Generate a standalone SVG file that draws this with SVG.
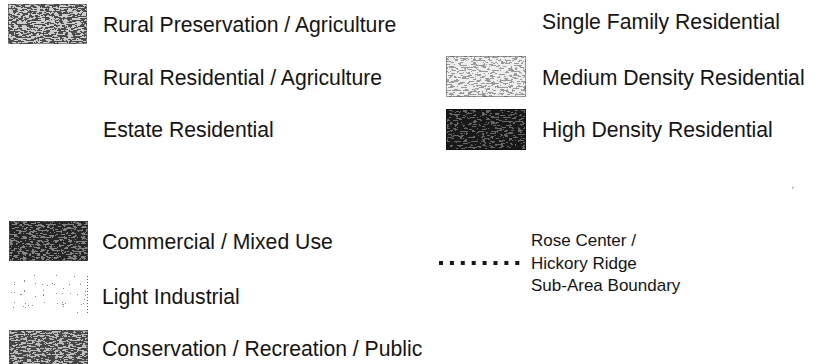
<svg xmlns="http://www.w3.org/2000/svg" width="830" height="364" viewBox="0 0 830 364">
<style>
  text { font-family: "Liberation Sans", Arial, sans-serif; fill: #141414; }
  .lbl { font-size: 21.2px; }
  .sm { font-size: 17px; }
  .edge { fill: none; stroke: #444; stroke-width: 1; stroke-dasharray: 1 1; }
</style>
<defs>
  <filter id="dMid" x="0" y="0" width="1" height="1" color-interpolation-filters="sRGB">
    <feTurbulence type="fractalNoise" baseFrequency="0.22 0.7" numOctaves="3" seed="4"/>
    <feColorMatrix type="matrix" values="1 0 0 0 0  1 0 0 0 0  1 0 0 0 0  0 0 0 0 1"/>
    <feComponentTransfer><feFuncR type="discrete" tableValues="0.3 0.8"/><feFuncG type="discrete" tableValues="0.3 0.8"/><feFuncB type="discrete" tableValues="0.3 0.8"/></feComponentTransfer>
    <feComposite in2="SourceGraphic" operator="in"/>
  </filter>
  <filter id="dCons" x="0" y="0" width="1" height="1" color-interpolation-filters="sRGB">
    <feTurbulence type="fractalNoise" baseFrequency="0.22 0.7" numOctaves="3" seed="21"/>
    <feColorMatrix type="matrix" values="1 0 0 0 -0.03  1 0 0 0 -0.03  1 0 0 0 -0.03  0 0 0 0 1"/>
    <feComponentTransfer><feFuncR type="discrete" tableValues="0.28 0.74"/><feFuncG type="discrete" tableValues="0.28 0.74"/><feFuncB type="discrete" tableValues="0.28 0.74"/></feComponentTransfer>
    <feComposite in2="SourceGraphic" operator="in"/>
  </filter>
  <filter id="dLight" x="0" y="0" width="1" height="1" color-interpolation-filters="sRGB">
    <feTurbulence type="fractalNoise" baseFrequency="0.22 0.7" numOctaves="3" seed="7"/>
    <feColorMatrix type="matrix" values="1 0 0 0 0.05  1 0 0 0 0.05  1 0 0 0 0.05  0 0 0 0 1"/>
    <feComponentTransfer><feFuncR type="discrete" tableValues="0.6 0.93"/><feFuncG type="discrete" tableValues="0.6 0.93"/><feFuncB type="discrete" tableValues="0.6 0.93"/></feComponentTransfer>
    <feComposite in2="SourceGraphic" operator="in"/>
  </filter>
  <filter id="dDark" x="0" y="0" width="1" height="1" color-interpolation-filters="sRGB">
    <feTurbulence type="fractalNoise" baseFrequency="0.22 0.7" numOctaves="3" seed="9"/>
    <feColorMatrix type="matrix" values="1 0 0 0 -0.08  1 0 0 0 -0.08  1 0 0 0 -0.08  0 0 0 0 1"/>
    <feComponentTransfer><feFuncR type="discrete" tableValues="0.1 0.4"/><feFuncG type="discrete" tableValues="0.1 0.4"/><feFuncB type="discrete" tableValues="0.1 0.4"/></feComponentTransfer>
    <feComposite in2="SourceGraphic" operator="in"/>
  </filter>
  <filter id="dCom" x="0" y="0" width="1" height="1" color-interpolation-filters="sRGB">
    <feTurbulence type="fractalNoise" baseFrequency="0.22 0.7" numOctaves="3" seed="12"/>
    <feColorMatrix type="matrix" values="1 0 0 0 -0.05  1 0 0 0 -0.05  1 0 0 0 -0.05  0 0 0 0 1"/>
    <feComponentTransfer><feFuncR type="discrete" tableValues="0.15 0.52"/><feFuncG type="discrete" tableValues="0.15 0.52"/><feFuncB type="discrete" tableValues="0.15 0.52"/></feComponentTransfer>
    <feComposite in2="SourceGraphic" operator="in"/>
  </filter>
  <filter id="dSparse" x="0" y="0" width="1" height="1" color-interpolation-filters="sRGB">
    <feTurbulence type="fractalNoise" baseFrequency="0.9" numOctaves="1" seed="5"/>
    <feColorMatrix type="matrix" values="1 0 0 0 0.22  1 0 0 0 0.22  1 0 0 0 0.22  0 0 0 0 1"/>
    <feComponentTransfer><feFuncR type="discrete" tableValues="0.55 1"/><feFuncG type="discrete" tableValues="0.55 1"/><feFuncB type="discrete" tableValues="0.55 1"/></feComponentTransfer>
    <feComposite in2="SourceGraphic" operator="in"/>
  </filter>
</defs>

<g id="rural-preservation">
  <rect x="8" y="4" width="79" height="40" fill="#888" filter="url(#dMid)"/>
  <rect x="8.5" y="4.5" width="78" height="39" class="edge"/>
  <text class="lbl" x="103" y="32">Rural Preservation / Agriculture</text>
</g>
<g id="rural-residential">
  <text class="lbl" x="103" y="85">Rural Residential / Agriculture</text>
</g>
<g id="estate-residential">
  <text class="lbl" x="103" y="137">Estate Residential</text>
</g>
<g id="single-family">
  <text class="lbl" x="542" y="29">Single Family Residential</text>
</g>
<g id="medium-density">
  <rect x="446" y="56" width="80" height="41" fill="#ccc" filter="url(#dLight)"/>
  <rect x="446.5" y="56.5" width="79" height="40" class="edge"/>
  <text class="lbl" x="542" y="85">Medium Density Residential</text>
</g>
<g id="high-density">
  <rect x="446" y="109" width="80" height="41" fill="#333" filter="url(#dDark)"/>
  <rect x="446.5" y="109.5" width="79" height="40" fill="none" stroke="#111" stroke-width="1"/>
  <text class="lbl" x="542" y="137">High Density Residential</text>
</g>
<g id="commercial">
  <rect x="9" y="221" width="79" height="40" fill="#444" filter="url(#dCom)"/>
  <rect x="9.5" y="221.5" width="78" height="39" class="edge"/>
  <text class="lbl" x="102" y="249">Commercial / Mixed Use</text>
</g>
<g id="light-industrial">
  <rect x="9" y="275" width="79" height="38" fill="#eee" filter="url(#dSparse)"/>
  <line x1="87.5" y1="276" x2="87.5" y2="313" stroke="#666" stroke-width="1" stroke-dasharray="1 2"/>
  <text class="lbl" x="102" y="304">Light Industrial</text>
</g>
<g id="conservation">
  <rect x="9" y="330" width="79" height="40" fill="#777" filter="url(#dCons)"/>
  <rect x="9.5" y="330.5" width="78" height="39" class="edge"/>
  <text class="lbl" x="102" y="356">Conservation / Recreation / Public</text>
</g>
<g id="connectors">
  <line x1="439" y1="263" x2="520" y2="263" stroke="#161616" stroke-width="4" stroke-dasharray="4 6.9"/>
</g>
<g id="sub-area-boundary">
  <text class="sm" x="531" y="246">Rose Center /</text>
  <text class="sm" x="531" y="269">Hickory Ridge</text>
  <text class="sm" x="531" y="291">Sub-Area Boundary</text>
</g>
<rect x="792" y="187" width="1.5" height="1.5" fill="#999"/>
</svg>
